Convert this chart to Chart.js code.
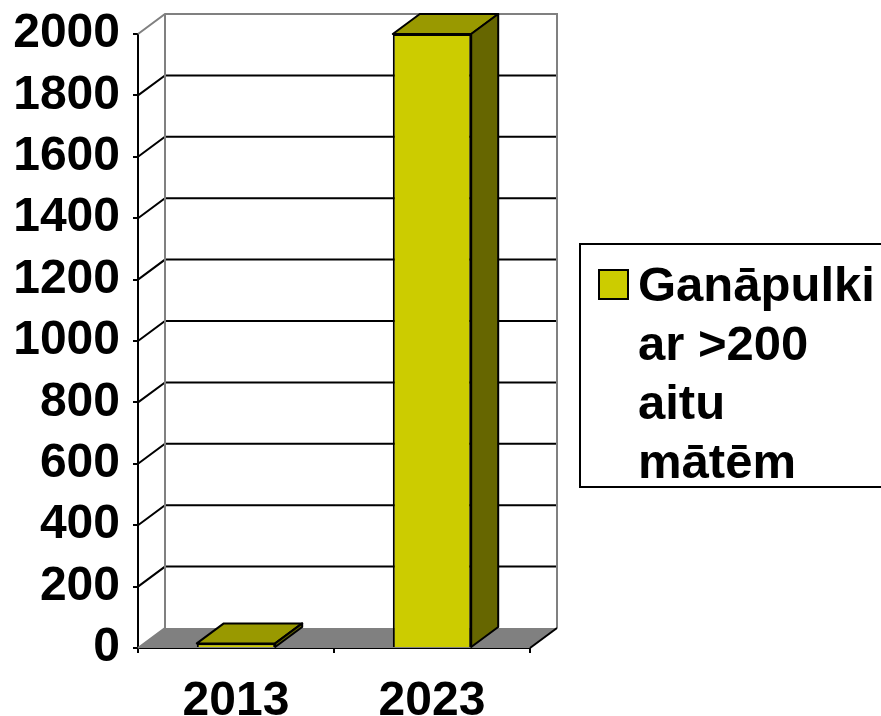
<!DOCTYPE html>
<html lang="lv">
<head>
    <meta charset="UTF-8">
    <title>Ganāpulki</title>
    <style>
        html, body { margin: 0; padding: 0; background: #fff; overflow: hidden; }
        #wrap { position: relative; width: 881px; height: 716px; }
        #legend {
            position: absolute; left: 579px; top: 243px; width: 330px; height: 245px;
            border: 2px solid #000; background: #fff; box-sizing: border-box;
            font: bold 49px "Liberation Sans", Arial, sans-serif; color: #000;
        }
        #legend .box {
            position: absolute; left: 17px; top: 24px; width: 27px; height: 27px;
            border: 2px solid #000; background: #cccc00;
        }
        #legend .txt { position: absolute; left: 57px; top: 10px; line-height: 59px; }
    </style>
</head>
<body>
<div id="wrap">
    <canvas id="myChart" width="881" height="716"></canvas>
    <div id="legend"></div>
</div>

<script src="https://cdn.jsdelivr.net/npm/chart.js@4/dist/chart.umd.min.js"></script>
<script>
    var years = ['2013', '2023'];
    var herds = [15, 2000];
    var seriesLines = ['Ganāpulki', 'ar >200', 'aitu', 'mātēm'];
    var yTicks = [0, 200, 400, 600, 800, 1000, 1200, 1400, 1600, 1800, 2000];

    var DX = 27, DY = 20;
    var FRONT = '#cccc00', TOP = '#999900', SIDE = '#666600';

    // back wall, side wall, floor and grid drawn behind the bars
    var walls = {
        id: 'walls',
        beforeDatasetsDraw: function(chart) {
            var ctx = chart.ctx, a = chart.chartArea, y = chart.scales.y;
            var l = a.left, r = a.right, t = a.top, b = a.bottom;
            ctx.save();
            ctx.fillStyle = '#808080';
            ctx.beginPath();
            ctx.moveTo(l, b); ctx.lineTo(r, b); ctx.lineTo(r + DX, b - DY); ctx.lineTo(l + DX, b - DY);
            ctx.closePath(); ctx.fill();

            ctx.lineWidth = 2;
            ctx.strokeStyle = '#000';
            yTicks.forEach(function(v) {
                if (v === 0 || v === yTicks[yTicks.length - 1]) return;
                var py = y.getPixelForValue(v);
                ctx.beginPath();
                ctx.moveTo(l, py); ctx.lineTo(l + DX, py - DY); ctx.lineTo(r + DX, py - DY);
                ctx.stroke();
            });

            ctx.strokeStyle = '#808080';
            ctx.beginPath();
            ctx.moveTo(l, t); ctx.lineTo(l + DX, t - DY); ctx.lineTo(r + DX, t - DY); ctx.lineTo(r + DX, b - DY);
            ctx.moveTo(l + DX, t - DY); ctx.lineTo(l + DX, b - DY);
            ctx.moveTo(l, b); ctx.lineTo(l + DX, b - DY);
            ctx.stroke();

            ctx.strokeStyle = '#000';
            ctx.beginPath();
            ctx.moveTo(r, b); ctx.lineTo(r + DX, b - DY);
            ctx.stroke();
            ctx.restore();
        },
        afterDatasetsDraw: function(chart) {
            var ctx = chart.ctx;
            ctx.save();
            ctx.lineWidth = 2;
            ctx.strokeStyle = '#000';
            ctx.lineJoin = 'round';
            chart.getDatasetMeta(0).data.forEach(function(bar) {
                var x0 = bar.x - bar.width / 2, x1 = bar.x + bar.width / 2;
                var yt = bar.y, yb = bar.base;
                ctx.fillStyle = TOP;
                ctx.beginPath();
                ctx.moveTo(x0, yt); ctx.lineTo(x0 + DX, yt - DY); ctx.lineTo(x1 + DX, yt - DY); ctx.lineTo(x1, yt);
                ctx.closePath(); ctx.fill(); ctx.stroke();
                ctx.fillStyle = SIDE;
                ctx.beginPath();
                ctx.moveTo(x1, yt); ctx.lineTo(x1 + DX, yt - DY); ctx.lineTo(x1 + DX, yb - DY); ctx.lineTo(x1, yb);
                ctx.closePath(); ctx.fill(); ctx.stroke();
            });
            ctx.restore();
        }
    };

    var font = { family: '"Liberation Sans", Arial, sans-serif', size: 48, weight: 'bold' };

    var ctx = document.getElementById('myChart').getContext('2d');
    var myChart = new Chart(ctx, {
        type: 'bar',
        data: {
            labels: years,
            datasets: [{
                label: seriesLines.join(' '),
                data: herds,
                backgroundColor: FRONT,
                borderColor: '#000',
                borderWidth: 2,
                barPercentage: 0.4,
                categoryPercentage: 1.0
            }]
        },
        options: {
            responsive: false,
            animation: false,
            layout: { padding: { left: 0, right: 351, top: 34, bottom: 0 } },
            plugins: { legend: { display: false }, tooltip: { enabled: false } },
            scales: {
                x: {
                    grid: { drawOnChartArea: false, drawTicks: true, tickLength: 5, color: '#000', lineWidth: 2 },
                    border: { color: '#000', width: 2 },
                    ticks: { color: '#000', font: font, padding: 20 },
                    afterFit: function(s) { s.height = 68; s.paddingLeft = 0; s.paddingRight = 0; }
                },
                y: {
                    min: 0, max: 2000,
                    grid: { drawOnChartArea: false, drawTicks: true, tickLength: 5, color: '#000', lineWidth: 2 },
                    border: { color: '#000', width: 2 },
                    ticks: {
                        stepSize: 200, color: '#000', font: font, padding: 13,
                        callback: function(v) { return String(v); }
                    },
                    afterFit: function(s) { s.width = 138; s.paddingTop = 0; s.paddingBottom = 0; }
                }
            }
        },
        plugins: [walls]
    });

    var lg = document.getElementById('legend');
    lg.innerHTML = '<div class="box"></div><div class="txt">' + seriesLines.join('<br>') + '</div>';
</script>
</body>
</html>
